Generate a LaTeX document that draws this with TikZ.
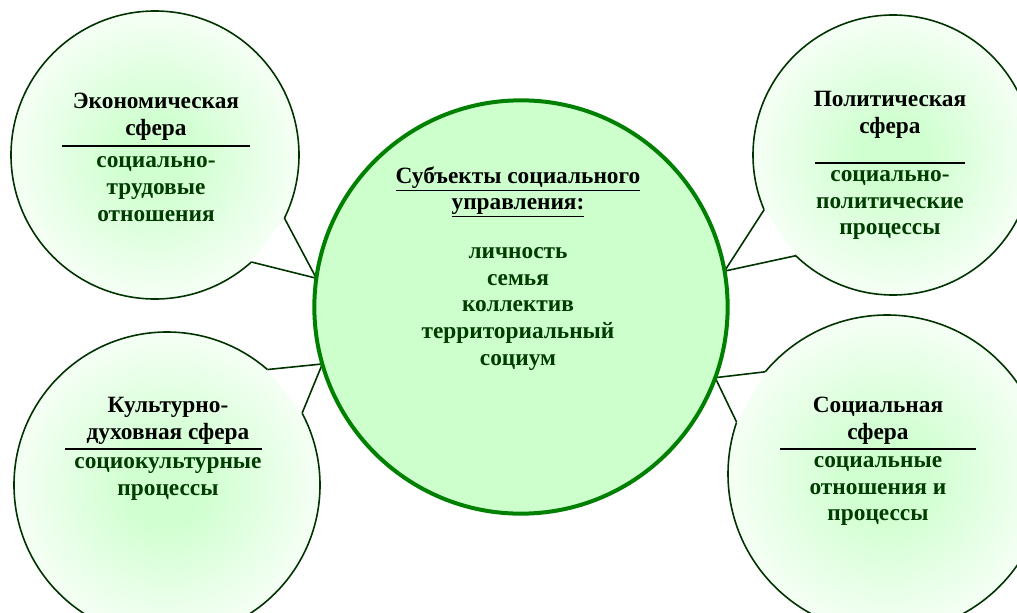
\documentclass[tikz,border=0pt]{standalone}
\usepackage{fontspec}
\setmainfont{Liberation Serif}
\usetikzlibrary{backgrounds}
\definecolor{hubfill}{RGB}{204,255,204}
\definecolor{hubline}{RGB}{0,128,0}
\definecolor{bubin}{RGB}{208,255,208}
\definecolor{bubline}{RGB}{0,51,0}
\definecolor{subtext}{RGB}{0,60,0}
\pgfdeclareradialshading{bubshade}{\pgfpoint{0bp}{0bp}}{color(0bp)=(bubin); color(6bp)=(bubin); color(30bp)=(white); color(50bp)=(white)}

\begin{document}
\begin{tikzpicture}[x=0.75pt, y=0.75pt, outer sep=0pt,
    every node/.style={font=\bfseries\fontsize{17.5}{20}\selectfont, align=center, inner sep=0pt},
    hub/.style={circle, draw=hubline, line width=3pt, fill=hubfill, minimum size=310pt},
    bubble/.style={circle, draw=bubline, line width=1.2pt, shading=bubshade},
    tail/.style={draw=bubline, line width=1.2pt},
    gap/.style={draw=white, line width=2.4pt},
    head/.style={text=black},
    sub/.style={text=subtext},
    rule/.style={line width=2.2pt},
    thinrule/.style={line width=1.1pt}]
  \useasboundingbox (0,0) rectangle (1017,612);

  \node[hub] (hub) at (521,305) {};
  \node[head] (hubt) at (518,420) {\underline{Субъекты социального}\\\underline{управления:}};
  \node[sub] (hubl) at (518,303) {личность\\семья\\коллектив\\территориальный\\социум};

  \begin{scope}[on background layer]
    \node[bubble, minimum size=216pt] (tl) at (155,457) {};
    \node[bubble, minimum size=210pt] (tr) at (893,457) {};
    \node[bubble, minimum size=229.5pt] (bl) at (167,127) {};
    \node[bubble, minimum size=238.5pt] (br) at (887,138) {};

    % tails of the bubbles
    \fill[white] (tl.-26.6) -- (hub.172) -- (tl.-48.7) -- cycle;
    \draw[gap] (tl.-48.7) arc[start angle=-48.7, end angle=-26.6, radius=108pt];
    \draw[tail] (tl.-26.6) -- (hub.172) -- (tl.-48.7);
    \fill[white] (tr.203.9) -- (hub.10) -- (tr.226.4) -- cycle;
    \draw[gap] (tr.203.9) arc[start angle=203.9, end angle=226.4, radius=105pt];
    \draw[tail] (tr.203.9) -- (hub.10) -- (tr.226.4);
    \fill[white] (bl.49) -- (hub.196.7) -- (bl.28) -- cycle;
    \draw[gap] (bl.28) arc[start angle=28, end angle=49, radius=114.75pt];
    \draw[tail] (bl.49) -- (hub.196.7) -- (bl.28);
    \fill[white] (br.140) -- (hub.-20) -- (br.161.1) -- cycle;
    \draw[gap] (br.140) arc[start angle=140, end angle=161.1, radius=119.25pt];
    \draw[tail] (br.140) -- (hub.-20) -- (br.161.1);
  \end{scope}

  \node[head] (tlh) at (156,495) {Экономическая\\сфера};
  \draw[rule] (62,466) -- (250,466);
  \node[sub] (tls) at (156,423) {социально-\\трудовые\\отношения};

  \node[head] (trh) at (890,497) {Политическая\\сфера};
  \draw[thinrule] (815,449) -- (965,449);
  \node[sub] (trs) at (890,407) {социально-\\политические\\процессы};

  \node[head] (blh) at (168,191) {Культурно-\\духовная сфера};
  \draw[rule] (65,163) -- (262,163);
  \node[sub] (bls) at (168,133) {социокультурные\\процессы};

  \node[head] (brh) at (878,191) {Социальная\\сфера};
  \draw[rule] (780,163) -- (976,163);
  \node[sub] (brs) at (878,121) {социальные\\отношения и\\процессы};
\end{tikzpicture}
\end{document}
